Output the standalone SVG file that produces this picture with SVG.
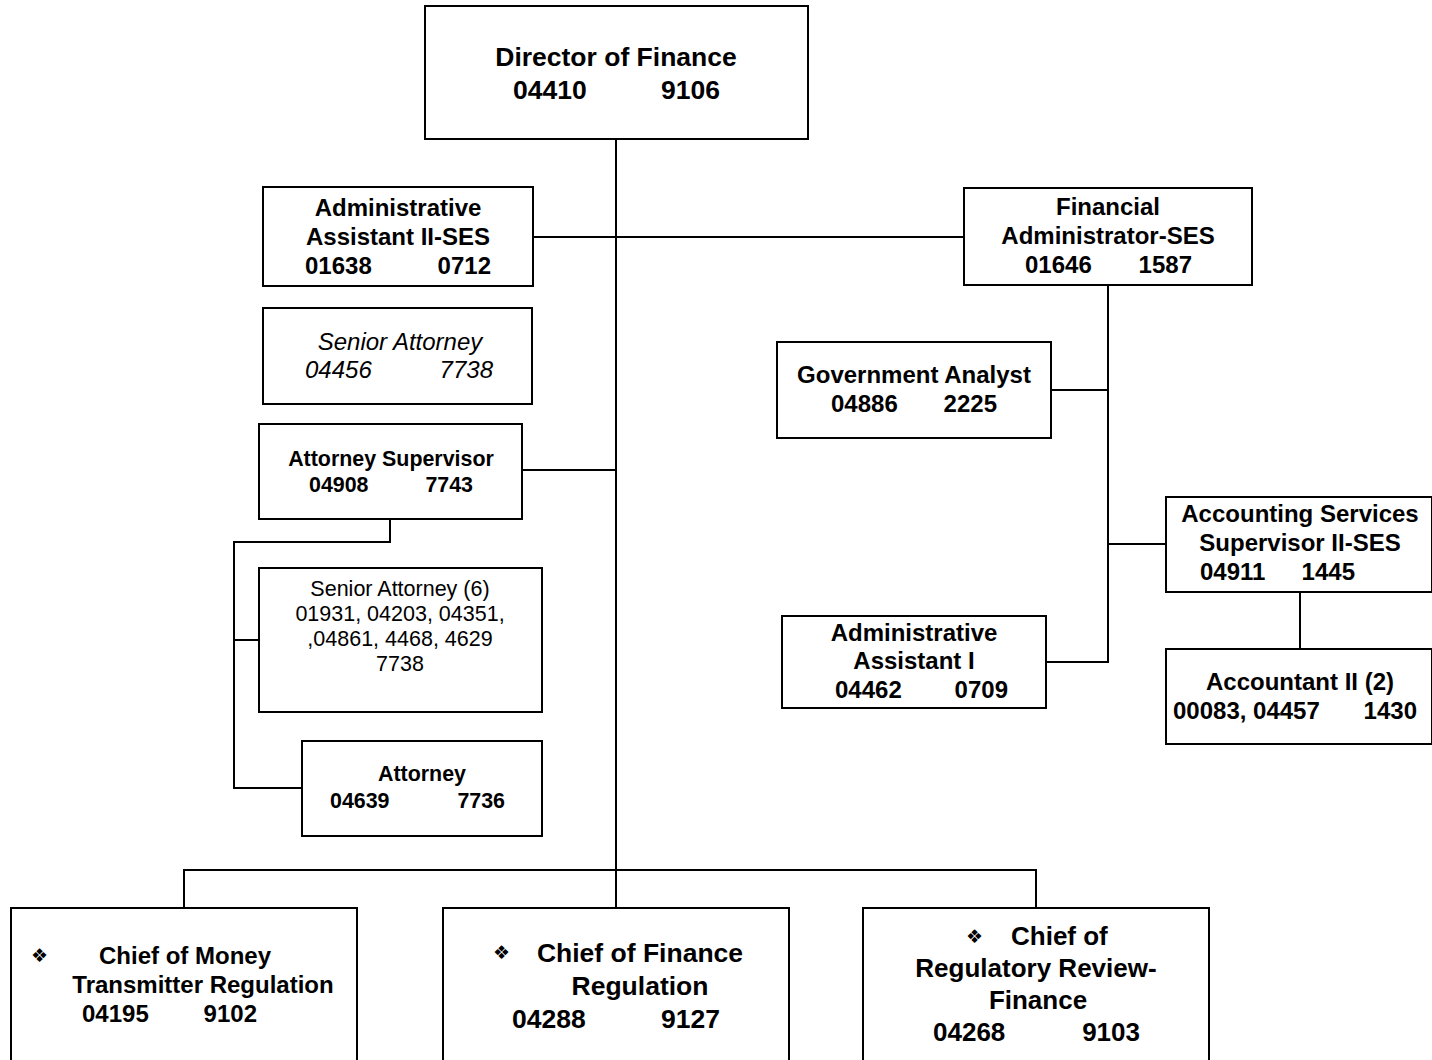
<svg xmlns="http://www.w3.org/2000/svg" width="1432" height="1060" viewBox="0 0 1432 1060">
  <style>
    .box { fill: #fff; stroke: #000; stroke-width: 2; }
    .ln { fill: none; stroke: #000; stroke-width: 2; }
    text { font-family: "Liberation Sans", Arial, sans-serif; fill: #000; }
    .b { font-weight: bold; font-size: 24px; }
    .big { font-weight: bold; font-size: 26.5px; }
    .mid { font-weight: bold; font-size: 26px; }
    .sm { font-weight: bold; font-size: 21.4px; }
    .reg { font-size: 21.5px; }
    .it { font-style: italic; font-size: 24px; }
    .c { text-anchor: middle; }
    .e { text-anchor: end; }
    .bul { font-family: "DejaVu Sans", sans-serif; font-size: 19px; }
  </style>
  <rect width="1432" height="1060" fill="#fff"/>

  <!-- reporting lines -->
  <g id="connectors">
    <path class="ln" d="M616 139 V870"/>
    <path class="ln" d="M533 237 H964"/>
    <path class="ln" d="M522 470 H616"/>
    <path class="ln" d="M390 519 V542 H234 V788 H302"/>
    <path class="ln" d="M234 640 H259"/>
    <path class="ln" d="M1108 285 V662 H1046"/>
    <path class="ln" d="M1051 390 H1108"/>
    <path class="ln" d="M1108 544 H1166"/>
    <path class="ln" d="M1300 592 V649"/>
    <path class="ln" d="M184 908 V870 H1036 V908"/>
    <path class="ln" d="M616 870 V908"/>
  </g>

  <g id="director">
    <rect class="box" x="425" y="6" width="383" height="133"/>
    <text class="big c" x="616" y="66">Director of Finance</text>
    <text class="big" x="513" y="99">04410</text>
    <text class="big e" x="720" y="99">9106</text>
  </g>

  <g id="admin-assistant-ii">
    <rect class="box" x="263" y="187" width="270" height="99"/>
    <text class="b c" x="398" y="216">Administrative</text>
    <text class="b c" x="398" y="245">Assistant II-SES</text>
    <text class="b" x="305" y="274">01638</text>
    <text class="b e" x="491" y="274">0712</text>
  </g>

  <g id="senior-attorney">
    <rect class="box" x="263" y="308" width="269" height="96"/>
    <text class="it c" x="400" y="350">Senior Attorney</text>
    <text class="it" x="305" y="378">04456</text>
    <text class="it e" x="493" y="378">7738</text>
  </g>

  <g id="attorney-supervisor">
    <rect class="box" x="259" y="424" width="263" height="95"/>
    <text class="sm c" x="391" y="466">Attorney Supervisor</text>
    <text class="sm" x="309" y="492">04908</text>
    <text class="sm e" x="473" y="492">7743</text>
  </g>

  <g id="senior-attorney-6">
    <rect class="box" x="259" y="568" width="283" height="144"/>
    <text class="reg c" x="400" y="596">Senior Attorney (6)</text>
    <text class="reg c" x="400" y="621">01931, 04203, 04351,</text>
    <text class="reg c" x="400" y="646">,04861, 4468, 4629</text>
    <text class="reg c" x="400" y="671">7738</text>
  </g>

  <g id="attorney">
    <rect class="box" x="302" y="741" width="240" height="95"/>
    <text class="sm c" x="422" y="781">Attorney</text>
    <text class="sm" x="330" y="808">04639</text>
    <text class="sm e" x="505" y="808">7736</text>
  </g>

  <g id="financial-administrator">
    <rect class="box" x="964" y="188" width="288" height="97"/>
    <text class="b c" x="1108" y="215">Financial</text>
    <text class="b c" x="1108" y="244">Administrator-SES</text>
    <text class="b" x="1025" y="273">01646</text>
    <text class="b e" x="1192" y="273">1587</text>
  </g>

  <g id="government-analyst">
    <rect class="box" x="777" y="342" width="274" height="96"/>
    <text class="b c" x="914" y="383">Government Analyst</text>
    <text class="b" x="831" y="412">04886</text>
    <text class="b e" x="997" y="412">2225</text>
  </g>

  <g id="accounting-supervisor">
    <rect class="box" x="1166" y="497" width="266" height="95"/>
    <text class="b c" x="1300" y="522">Accounting Services</text>
    <text class="b c" x="1300" y="551">Supervisor II-SES</text>
    <text class="b" x="1200" y="580">04911</text>
    <text class="b e" x="1355" y="580">1445</text>
  </g>

  <g id="admin-assistant-i">
    <rect class="box" x="782" y="616" width="264" height="92"/>
    <text class="b c" x="914" y="641">Administrative</text>
    <text class="b c" x="914" y="669">Assistant I</text>
    <text class="b" x="835" y="698">04462</text>
    <text class="b e" x="1008" y="698">0709</text>
  </g>

  <g id="accountant-ii">
    <rect class="box" x="1166" y="649" width="266" height="95"/>
    <text class="b c" x="1300" y="690">Accountant II (2)</text>
    <text class="b" x="1173" y="719">00083, 04457</text>
    <text class="b e" x="1417" y="719">1430</text>
  </g>

  <g id="chief-money-transmitter">
    <rect class="box" x="11" y="908" width="346" height="160"/>
    <text class="bul" x="31" y="962">❖</text>
    <text class="b c" x="185" y="964">Chief of Money</text>
    <text class="b c" x="203" y="993">Transmitter Regulation</text>
    <text class="b" x="82" y="1022">04195</text>
    <text class="b e" x="257" y="1022">9102</text>
  </g>

  <g id="chief-finance-regulation">
    <rect class="box" x="443" y="908" width="346" height="160"/>
    <text class="bul" x="493" y="959">❖</text>
    <text class="big c" x="640" y="962">Chief of Finance</text>
    <text class="big c" x="640" y="995">Regulation</text>
    <text class="big" x="512" y="1028">04288</text>
    <text class="big e" x="720" y="1028">9127</text>
  </g>

  <g id="chief-regulatory-review">
    <rect class="box" x="863" y="908" width="346" height="160"/>
    <text class="bul" x="966" y="943">❖</text>
    <text class="mid" x="1011" y="945">Chief of</text>
    <text class="mid c" x="1036" y="977">Regulatory Review-</text>
    <text class="mid c" x="1038" y="1009">Finance</text>
    <text class="mid" x="933" y="1041">04268</text>
    <text class="mid e" x="1140" y="1041">9103</text>
  </g>
</svg>
